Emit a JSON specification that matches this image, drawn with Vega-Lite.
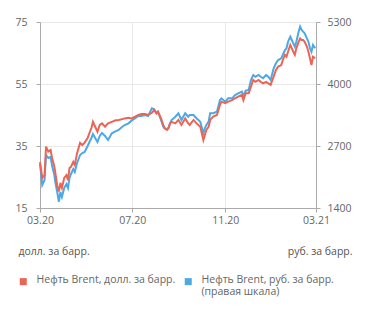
{
  "$schema": "https://vega.github.io/schema/vega-lite/v6.json",
  "width": 276,
  "height": 186,
  "autosize": "none",
  "padding": {"left": 40, "top": 22, "right": 55, "bottom": 108},
  "config": {
    "font": "Open Sans",
    "view": {"stroke": null},
    "axis": {
      "labelFontSize": 10.5,
      "labelColor": "#666666",
      "domainColor": "#aaaaaa",
      "tickColor": "#aaaaaa",
      "tickSize": 4,
      "gridColor": "#e8e8e8",
      "titleFontSize": 10.5,
      "titleFontWeight": "normal",
      "titleColor": "#555555"
    },
    "legend": {
      "labelFontSize": 10.5,
      "labelColor": "#666666",
      "symbolType": "square",
      "symbolSize": 49
    }
  },
  "data": {"values": [
    {"date":"2020-03-01","usd":29.8,"rub":2323},
    {"date":"2020-03-04","usd":24.7,"rub":1882},
    {"date":"2020-03-07","usd":25.6,"rub":1987},
    {"date":"2020-03-09","usd":34.8,"rub":2511},
    {"date":"2020-03-12","usd":33.2,"rub":2448},
    {"date":"2020-03-15","usd":33.7,"rub":2469},
    {"date":"2020-03-17","usd":31.1,"rub":2281},
    {"date":"2020-03-20","usd":28.3,"rub":2092},
    {"date":"2020-03-21","usd":26.7,"rub":1966},
    {"date":"2020-03-24","usd":21.9,"rub":1715},
    {"date":"2020-03-26","usd":20.3,"rub":1532},
    {"date":"2020-03-28","usd":23.1,"rub":1735},
    {"date":"2020-03-30","usd":21.5,"rub":1631},
    {"date":"2020-04-02","usd":24.7,"rub":1819},
    {"date":"2020-04-05","usd":25.6,"rub":1903},
    {"date":"2020-04-07","usd":24.0,"rub":1819},
    {"date":"2020-04-09","usd":27.9,"rub":2029},
    {"date":"2020-04-11","usd":28.3,"rub":2113},
    {"date":"2020-04-14","usd":29.9,"rub":2218},
    {"date":"2020-04-16","usd":28.9,"rub":2155},
    {"date":"2020-04-19","usd":32.7,"rub":2344},
    {"date":"2020-04-23","usd":36.0,"rub":2511},
    {"date":"2020-04-26","usd":35.3,"rub":2553},
    {"date":"2020-04-29","usd":36.1,"rub":2574},
    {"date":"2020-05-03","usd":37.6,"rub":2700},
    {"date":"2020-05-06","usd":39.6,"rub":2805},
    {"date":"2020-05-08","usd":40.8,"rub":2868},
    {"date":"2020-05-10","usd":42.8,"rub":2952},
    {"date":"2020-05-13","usd":41.2,"rub":2868},
    {"date":"2020-05-16","usd":39.6,"rub":2784},
    {"date":"2020-05-19","usd":41.8,"rub":2910},
    {"date":"2020-05-22","usd":42.3,"rub":2973},
    {"date":"2020-05-26","usd":41.2,"rub":2910},
    {"date":"2020-05-30","usd":42.3,"rub":2826},
    {"date":"2020-06-04","usd":42.8,"rub":2966},
    {"date":"2020-06-08","usd":43.2,"rub":3000},
    {"date":"2020-06-13","usd":43.4,"rub":3036},
    {"date":"2020-06-17","usd":43.6,"rub":3092},
    {"date":"2020-06-21","usd":43.9,"rub":3140},
    {"date":"2020-06-26","usd":44.1,"rub":3176},
    {"date":"2020-06-30","usd":43.9,"rub":3231},
    {"date":"2020-07-05","usd":44.5,"rub":3281},
    {"date":"2020-07-09","usd":45.0,"rub":3329},
    {"date":"2020-07-13","usd":45.3,"rub":3329},
    {"date":"2020-07-18","usd":45.3,"rub":3350},
    {"date":"2020-07-22","usd":45.0,"rub":3329},
    {"date":"2020-07-27","usd":45.7,"rub":3491},
    {"date":"2020-07-30","usd":46.6,"rub":3470},
    {"date":"2020-08-02","usd":45.5,"rub":3398},
    {"date":"2020-08-04","usd":46.1,"rub":3419},
    {"date":"2020-08-08","usd":43.9,"rub":3245},
    {"date":"2020-08-11","usd":41.8,"rub":3105},
    {"date":"2020-08-13","usd":40.7,"rub":3071},
    {"date":"2020-08-16","usd":40.2,"rub":3050},
    {"date":"2020-08-18","usd":40.7,"rub":3092},
    {"date":"2020-08-20","usd":42.3,"rub":3176},
    {"date":"2020-08-22","usd":42.8,"rub":3245},
    {"date":"2020-08-27","usd":42.3,"rub":3314},
    {"date":"2020-08-31","usd":43.4,"rub":3386},
    {"date":"2020-09-04","usd":41.8,"rub":3245},
    {"date":"2020-09-09","usd":43.9,"rub":3386},
    {"date":"2020-09-13","usd":42.3,"rub":3314},
    {"date":"2020-09-15","usd":41.8,"rub":3350},
    {"date":"2020-09-20","usd":43.4,"rub":3350},
    {"date":"2020-09-24","usd":42.3,"rub":3281},
    {"date":"2020-09-29","usd":41.2,"rub":3210},
    {"date":"2020-10-03","usd":36.9,"rub":2966},
    {"date":"2020-10-05","usd":38.5,"rub":3071},
    {"date":"2020-10-07","usd":40.2,"rub":3140},
    {"date":"2020-10-10","usd":41.2,"rub":3210},
    {"date":"2020-10-12","usd":43.4,"rub":3386},
    {"date":"2020-10-16","usd":44.5,"rub":3386},
    {"date":"2020-10-21","usd":45.0,"rub":3419},
    {"date":"2020-10-25","usd":48.2,"rub":3665},
    {"date":"2020-10-27","usd":49.3,"rub":3700},
    {"date":"2020-11-01","usd":48.8,"rub":3629},
    {"date":"2020-11-05","usd":49.3,"rub":3700},
    {"date":"2020-11-10","usd":49.8,"rub":3700},
    {"date":"2020-11-14","usd":50.4,"rub":3769},
    {"date":"2020-11-18","usd":50.9,"rub":3805},
    {"date":"2020-11-23","usd":51.5,"rub":3839},
    {"date":"2020-11-25","usd":49.8,"rub":3734},
    {"date":"2020-11-28","usd":52.0,"rub":3860},
    {"date":"2020-12-02","usd":52.0,"rub":3874},
    {"date":"2020-12-05","usd":54.1,"rub":4084},
    {"date":"2020-12-08","usd":56.3,"rub":4189},
    {"date":"2020-12-11","usd":55.7,"rub":4153},
    {"date":"2020-12-15","usd":56.3,"rub":4189},
    {"date":"2020-12-18","usd":55.7,"rub":4153},
    {"date":"2020-12-21","usd":55.2,"rub":4120},
    {"date":"2020-12-25","usd":55.7,"rub":4189},
    {"date":"2020-12-28","usd":55.2,"rub":4153},
    {"date":"2020-12-31","usd":54.7,"rub":4084},
    {"date":"2021-01-04","usd":57.4,"rub":4329},
    {"date":"2021-01-07","usd":59.5,"rub":4434},
    {"date":"2021-01-10","usd":60.6,"rub":4503},
    {"date":"2021-01-14","usd":61.1,"rub":4539},
    {"date":"2021-01-17","usd":63.3,"rub":4644},
    {"date":"2021-01-19","usd":64.4,"rub":4713},
    {"date":"2021-01-21","usd":63.8,"rub":4749},
    {"date":"2021-01-23","usd":65.4,"rub":4887},
    {"date":"2021-01-26","usd":67.6,"rub":4992},
    {"date":"2021-01-28","usd":66.5,"rub":4923},
    {"date":"2021-01-30","usd":65.4,"rub":4853},
    {"date":"2021-02-01","usd":64.4,"rub":4782},
    {"date":"2021-02-03","usd":66.5,"rub":4887},
    {"date":"2021-02-06","usd":68.6,"rub":5097},
    {"date":"2021-02-08","usd":69.7,"rub":5202},
    {"date":"2021-02-10","usd":69.2,"rub":5132},
    {"date":"2021-02-12","usd":69.2,"rub":5097},
    {"date":"2021-02-14","usd":68.6,"rub":5063},
    {"date":"2021-02-17","usd":67.0,"rub":4958},
    {"date":"2021-02-19","usd":65.4,"rub":4887},
    {"date":"2021-02-21","usd":63.3,"rub":4749},
    {"date":"2021-02-23","usd":61.1,"rub":4677},
    {"date":"2021-02-25","usd":63.8,"rub":4818},
    {"date":"2021-02-28","usd":63.3,"rub":4749}
  ]},
  "encoding": {
    "x": {
      "field": "date",
      "type": "temporal",
      "scale": {"type": "utc", "domain": [{"year": 2020, "month": 3, "date": 1, "utc": true}, {"year": 2021, "month": 3, "date": 1, "utc": true}]},
      "axis": {
        "title": null,
        "format": "%m.%y",
        "values": [
          {"year": 2020, "month": 3, "date": 1, "utc": true},
          {"year": 2020, "month": 7, "date": 1, "utc": true},
          {"year": 2020, "month": 11, "date": 1, "utc": true},
          {"year": 2021, "month": 3, "date": 1, "utc": true}
        ],
        "grid": true,
        "labelPadding": 3,
        "labelFlush": false
      }
    }
  },
  "layer": [
    {
      "mark": {"type": "line", "strokeWidth": 2, "interpolate": "linear"},
      "encoding": {
        "y": {
          "field": "rub",
          "type": "quantitative",
          "scale": {"domain": [1400, 5300], "nice": false, "zero": false},
          "axis": {
            "orient": "right",
            "values": [1400, 2700, 4000, 5300],
            "grid": false,
            "labelPadding": 7,
            "format": "d",
            "title": "руб. за барр.",
            "titleAngle": 0,
            "titleAlign": "right",
            "titleBaseline": "alphabetic",
            "titleX": 36,
            "titleY": 232
          }
        },
        "color": {
          "datum": "Нефть Brent, руб. за барр.",
          "scale": {
            "domain": ["Нефть Brent, долл. за барр.", "Нефть Brent, руб. за барр."],
            "range": ["#EB6556", "#4DA8E6"]
          },
          "legend": {
            "title": null,
            "orient": "none",
            "direction": "horizontal",
            "legendX": -22,
            "legendY": 254,
            "padding": 0,
            "labelOffset": 8,
            "columnPadding": 7,
            "labelLimit": 300,
            "labelBaseline": "top",
            "labelExpr": "datum.label == 'Нефть Brent, руб. за барр.' ? ['Нефть Brent, руб. за барр.', '(правая шкала)'] : [datum.label, '']",
            "encode": {
              "symbols": {"update": {"fill": {"scale": "color", "field": "value"}, "strokeWidth": {"value": 0}, "opacity": {"value": 1}}},
              "labels": {"update": {"dy": {"value": -7}}}
            }
          }
        }
      }
    },
    {
      "mark": {"type": "line", "strokeWidth": 2, "interpolate": "linear"},
      "encoding": {
        "y": {
          "field": "usd",
          "type": "quantitative",
          "scale": {"domain": [15, 75], "nice": false, "zero": false},
          "axis": {
            "values": [15, 35, 55, 75],
            "grid": true,
            "labelPadding": 9,
            "title": "долл. за барр.",
            "titleAngle": 0,
            "titleAlign": "left",
            "titleBaseline": "alphabetic",
            "titleX": -22,
            "titleY": 232
          }
        },
        "color": {"datum": "Нефть Brent, долл. за барр."}
      }
    }
  ],
  "resolve": {"scale": {"y": "independent"}}
}
